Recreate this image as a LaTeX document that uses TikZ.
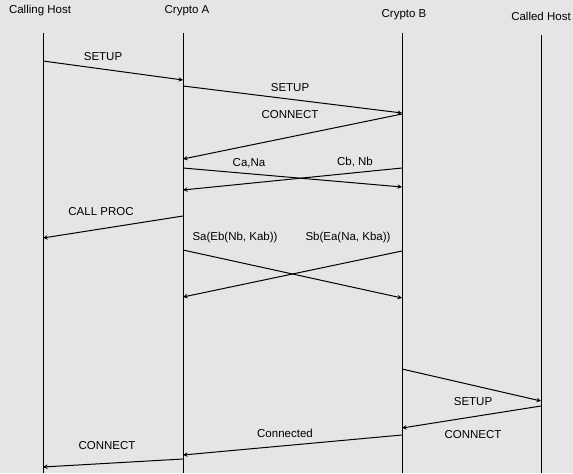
\documentclass[tikz,border=0pt]{standalone}
\usepackage{fontspec}
\setmainfont{Liberation Sans}
\definecolor{scan}{RGB}{228,229,228}
\tikzset{>=stealth}

\begin{document}
\begin{tikzpicture}[x=1pt, y=-1pt, msg/.style={->, line width=1pt},
  lbl/.style={font=\fontsize{11.5}{13}\selectfont, inner sep=0pt}]
\fill[scan] (0,0) rectangle (573,473);
% lifelines and their headers
\foreach \n/\x/\tx/\ty/\top/\t in {ch/43/40/11/33/Calling Host, ca/183/187/11/33/Crypto A,
  cb/402/404/15/33/Crypto B, cd/541/541/16/35/Called Host} {
  \node[lbl] (\n) at (\tx,\ty) {\t};
  \coordinate (\n top) at (\x,\top);
  \coordinate (\n bot) at (\x,473);
  \draw[line width=1pt] (\n top) -- (\n bot);
}
% message end points
\coordinate (m1a) at (43,61);   \coordinate (m1b) at (183,80);
\coordinate (m2a) at (183,86);  \coordinate (m2b) at (402,113);
\coordinate (m3a) at (402,114); \coordinate (m3b) at (183,159);
\coordinate (m4a) at (183,168); \coordinate (m4b) at (402,187);
\coordinate (m5a) at (402,168); \coordinate (m5b) at (183,190);
\coordinate (m6a) at (183,216); \coordinate (m6b) at (43,238);
\coordinate (m7a) at (183,250); \coordinate (m7b) at (402,298);
\coordinate (m8a) at (402,251); \coordinate (m8b) at (183,297);
\coordinate (m9a) at (402,369); \coordinate (m9b) at (541,401);
\coordinate (m10a) at (541,406); \coordinate (m10b) at (402,428);
\coordinate (m11a) at (402,435); \coordinate (m11b) at (183,455);
\coordinate (m12a) at (183,459); \coordinate (m12b) at (43,467);
\foreach \i in {1,...,12}
\draw[msg] (m\i a) -- (m\i b);
% message labels
\node[lbl] (setupa) at (103,57) {SETUP};
\node[lbl] (setupb) at (290,88) {SETUP};
\node[lbl] (connb) at (290,115) {CONNECT};
\node[lbl] (cana) at (249,163) {Ca,Na};
\node[lbl] (cbnb) at (355,162) {Cb, Nb};
\node[lbl] (callproc) at (101,212) {CALL PROC};
\node[lbl] (sigab) at (235,238) {Sa(Eb(Nb, Kab))};
\node[lbl] (sigba) at (348,238) {Sb(Ea(Na, Kba))};
\node[lbl] (setupd) at (473,402) {SETUP};
\node[lbl] (connd) at (473,435) {CONNECT};
\node[lbl] (connected) at (285,433) {Connected};
\node[lbl] (conna) at (107,446) {CONNECT};
\end{tikzpicture}
\end{document}
